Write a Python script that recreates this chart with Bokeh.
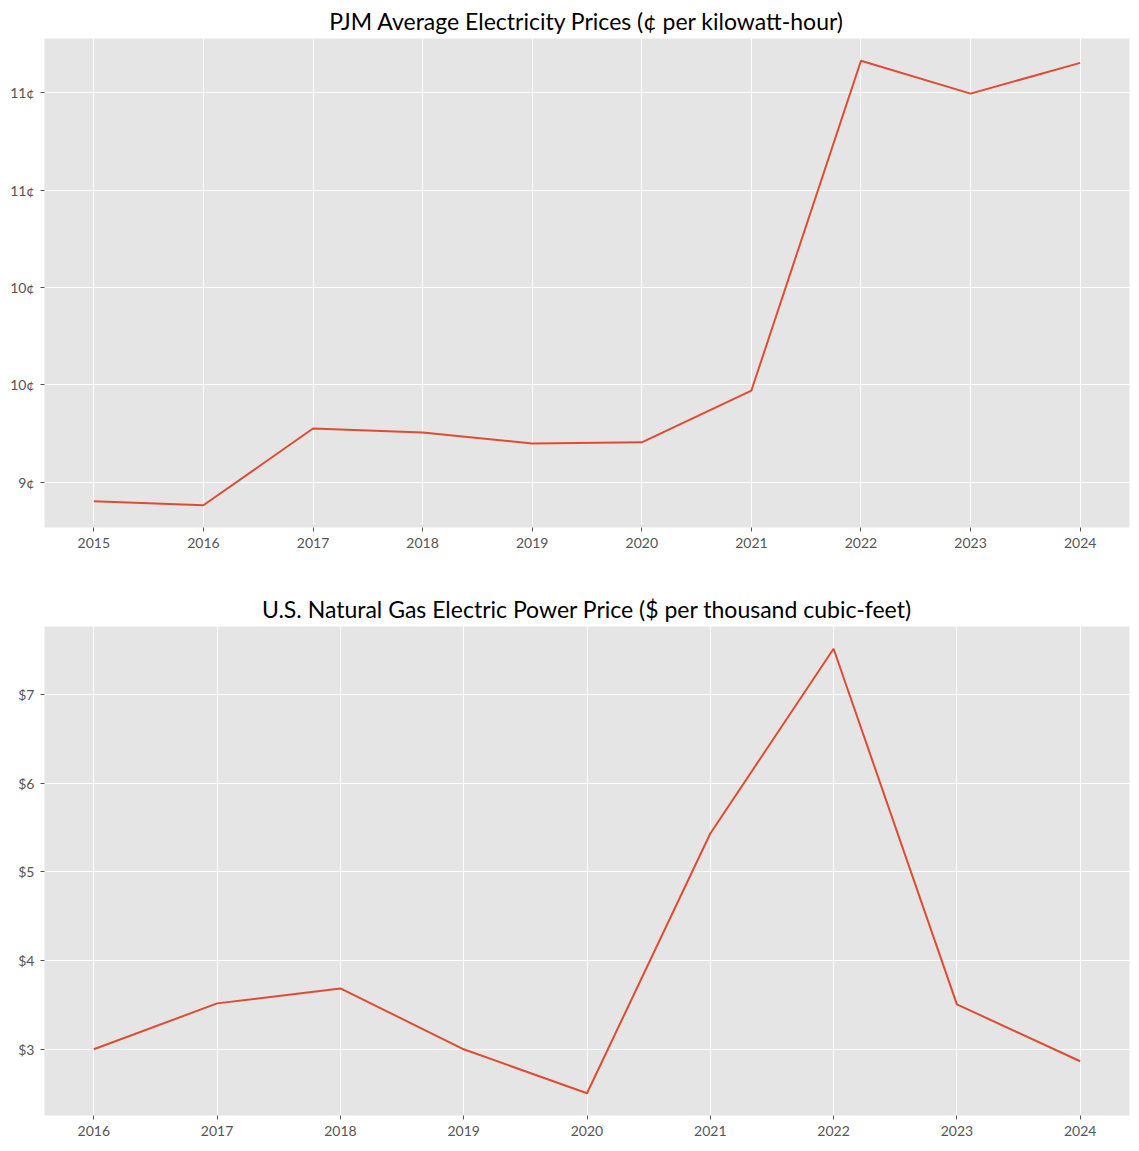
from bokeh.plotting import figure
from bokeh.layouts import column
from bokeh.models import FixedTicker, Range1d
from bokeh.embed import file_html
from bokeh.resources import INLINE

# Data
elec_years = [2015, 2016, 2017, 2018, 2019, 2020, 2021, 2022, 2023, 2024]
elec_prices = [8.903, 8.882, 9.276, 9.256, 9.199, 9.205, 9.471, 11.164, 10.995, 11.153]
elec_ticks = [9, 9.5, 10, 10.5, 11]
elec_labels = ["9¢", "10¢", "10¢", "11¢", "11¢"]

gas_years = [2016, 2017, 2018, 2019, 2020, 2021, 2022, 2023, 2024]
gas_prices = [3.00, 3.518, 3.687, 3.00, 2.504, 5.434, 7.518, 3.507, 2.865]
gas_ticks = [3, 4, 5, 6, 7]
gas_labels = ["$3", "$4", "$5", "$6", "$7"]

FONT = "Lato"
LINE = "#E24A33"
BG = "#E5E5E5"


def make(title, xs, ys, yticks, ylabels, height, bottom):
    xmin, xmax = min(xs), max(xs)
    xm = (xmax - xmin) * 0.05
    ymin, ymax = min(ys), max(ys)
    ym = (ymax - ymin) * 0.05
    p = figure(width=1133, height=height, output_backend="svg", toolbar_location=None,
               x_range=Range1d(xmin - xm, xmax + xm), y_range=Range1d(ymin - ym, ymax + ym),
               title=title, min_border_left=44, min_border_right=4,
               min_border_bottom=bottom, min_border_top=0)
    p.background_fill_color = BG
    p.border_fill_color = "white"
    p.outline_line_color = None
    p.title.align = "center"
    p.title.text_font = FONT
    p.title.text_font_size = "23px"
    p.title.text_font_style = "normal"
    p.title.text_color = "black"
    p.title.offset = 0
    p.title.standoff = 8
    p.line(xs, ys, line_color=LINE, line_width=2)
    p.xaxis.ticker = FixedTicker(ticks=xs)
    p.yaxis.ticker = FixedTicker(ticks=yticks)
    p.yaxis.major_label_overrides = {t: l for t, l in zip(yticks, ylabels)}
    for ax in (p.xaxis[0], p.yaxis[0]):
        ax.axis_line_color = None
        ax.major_tick_line_color = "#555555"
        ax.major_tick_out = 4
        ax.major_tick_in = 0
        ax.minor_tick_line_color = None
        ax.major_label_text_font = FONT
        ax.major_label_text_font_size = "14px"
        ax.major_label_text_color = "#555555"
        ax.major_label_standoff = 6
    p.xgrid.ticker = FixedTicker(ticks=xs)
    p.ygrid.ticker = FixedTicker(ticks=yticks)
    p.grid.grid_line_color = "white"
    p.grid.grid_line_width = 1
    return p


p1 = make("PJM Average Electricity Prices (¢ per kilowatt-hour)", elec_years, elec_prices,
          elec_ticks, elec_labels, 588, 61)
p2 = make("U.S. Natural Gas Electric Power Price ($ per thousand cubic-feet)", gas_years, gas_prices,
          gas_ticks, gas_labels, 557, 30)

layout = column(p1, p2, spacing=0)
open("out.html", "w").write(file_html(layout, INLINE))
